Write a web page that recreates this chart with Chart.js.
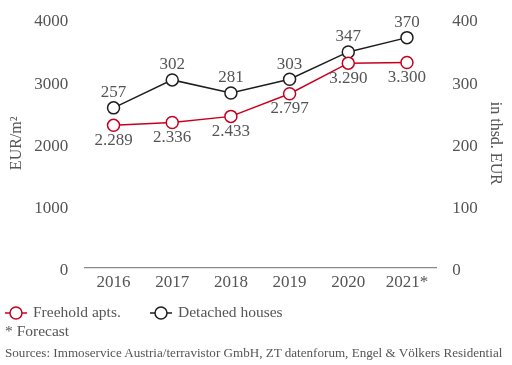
<!DOCTYPE html>
<html>
<head>
<meta charset="utf-8">
<script src="https://cdn.jsdelivr.net/npm/chart.js@4"></script>
<style>
  html, body { margin: 0; padding: 0; background: #fff; }
  #wrap { position: relative; width: 512px; height: 365px; }
  #chart { position: absolute; left: 0; top: 0; }
  .note { position: absolute; font-family: "Liberation Serif", serif; color: #555; white-space: nowrap; line-height: 18px; }
  .note canvas { position: absolute; left: 0; top: 2px; }
</style>
</head>
<body>
<div id="wrap">
  <canvas id="chart" width="512" height="365"></canvas>
  <div class="note" id="leg0" style="left:4px;top:303px;font-size:15.5px;padding-left:29px;"></div>
  <div class="note" id="leg1" style="left:149px;top:303px;font-size:15.5px;padding-left:29px;"></div>
  <div class="note" style="left:5px;top:322px;font-size:15.5px;">* Forecast</div>
  <div class="note" style="left:5px;top:344px;font-size:13.1px;">Sources: Immoservice Austria/terravistor GmbH, ZT datenforum, Engel &amp; Völkers Residential</div>
</div>
<script>
// chart values
var years = ["2016", "2017", "2018", "2019", "2020", "2021*"];
var freehold = [2289, 2336, 2433, 2797, 3290, 3300];   // EUR/m2, left axis
var detached = [257, 302, 281, 303, 347, 370];         // thsd EUR, right axis
var leftTicks = [0, 1000, 2000, 3000, 4000];
var rightTicks = [0, 100, 200, 300, 400];

var red = "#c8001e";
var dark = "#1e1e1e";
var grey = "#555555";
var serif = "'Liberation Serif', 'Times New Roman', serif";

// 2.289 style thousand separator
function fmt(v) {
  var s = String(v);
  return s.length > 3 ? s.slice(0, s.length - 3) + "." + s.slice(-3) : s;
}

// legend symbol: line with open circle
function legendIcon(color) {
  var c = document.createElement("canvas");
  c.width = 24; c.height = 16;
  var g = c.getContext("2d");
  g.strokeStyle = color; g.lineWidth = 1.5;
  g.beginPath(); g.moveTo(1, 8); g.lineTo(23, 8); g.stroke();
  g.beginPath(); g.arc(12, 8, 6, 0, Math.PI * 2);
  g.fillStyle = "#fff"; g.fill(); g.stroke();
  return c;
}

// value labels: apartments below the point, houses above
var valueLabels = {
  id: "valueLabels",
  afterDatasetsDraw: function(chart) {
    var ctx = chart.ctx;
    ctx.save();
    ctx.font = "17px " + serif;
    ctx.fillStyle = grey;
    ctx.textAlign = "center";
    ctx.textBaseline = "middle";
    chart.data.datasets.forEach(function(ds, i) {
      var meta = chart.getDatasetMeta(i);
      meta.data.forEach(function(pt, j) {
        var dy = ds.yAxisID === "y" ? 15 : -15;
        ctx.fillText(fmt(ds.data[j]), pt.x, pt.y + dy);
      });
    });
    ctx.restore();
  }
};

var chart = new Chart(document.getElementById("chart"), {
  type: "line",
  data: {
    labels: years,
    datasets: [{
      label: "Freehold apts.", data: freehold, yAxisID: "y",
      borderColor: red, borderWidth: 1.5, pointRadius: 6, pointBorderWidth: 1.5,
      pointBackgroundColor: "#fff", pointBorderColor: red, tension: 0
    }, {
      label: "Detached houses", data: detached, yAxisID: "y1",
      borderColor: dark, borderWidth: 1.5, pointRadius: 6, pointBorderWidth: 1.5,
      pointBackgroundColor: "#fff", pointBorderColor: dark, tension: 0
    }]
  },
  options: {
    responsive: false,
    animation: false,
    layout: { padding: { left: 7, right: 7, top: 19, bottom: 67 } },
    plugins: { tooltip: { enabled: false }, legend: { display: false } },
    scales: {
      x: {
        offset: true,
        grid: { display: false, drawTicks: false },
        border: { display: true, color: "#8a8a8a", width: 1.2 },
        ticks: { font: { family: serif, size: 17 }, color: grey, padding: 5 }
      },
      y: {
        position: "left", min: 0, max: 4000,
        afterBuildTicks: function(s) { s.ticks = leftTicks.map(function(v) { return { value: v }; }); },
        grid: { display: false }, border: { display: false },
        ticks: { font: { family: serif, size: 17 }, color: grey, padding: 8, labelOffset: 3, callback: function(v) { return String(v); } },
        title: { display: true, text: "EUR/m²", font: { family: serif, size: 16 }, color: grey, padding: 0 }
      },
      y1: {
        position: "right", min: 0, max: 400,
        afterBuildTicks: function(s) { s.ticks = rightTicks.map(function(v) { return { value: v }; }); },
        grid: { display: false }, border: { display: false },
        ticks: { font: { family: serif, size: 17 }, color: grey, padding: 8, labelOffset: 3, callback: function(v) { return String(v); } },
        title: { display: true, text: "in thsd. EUR", font: { family: serif, size: 16 }, color: grey, padding: 0 }
      }
    }
  },
  plugins: [valueLabels]
});

// legend from the datasets
chart.data.datasets.forEach(function(ds, i) {
  var el = document.getElementById("leg" + i);
  el.appendChild(legendIcon(ds.borderColor));
  el.appendChild(document.createTextNode(ds.label));
});
</script>
</body>
</html>
